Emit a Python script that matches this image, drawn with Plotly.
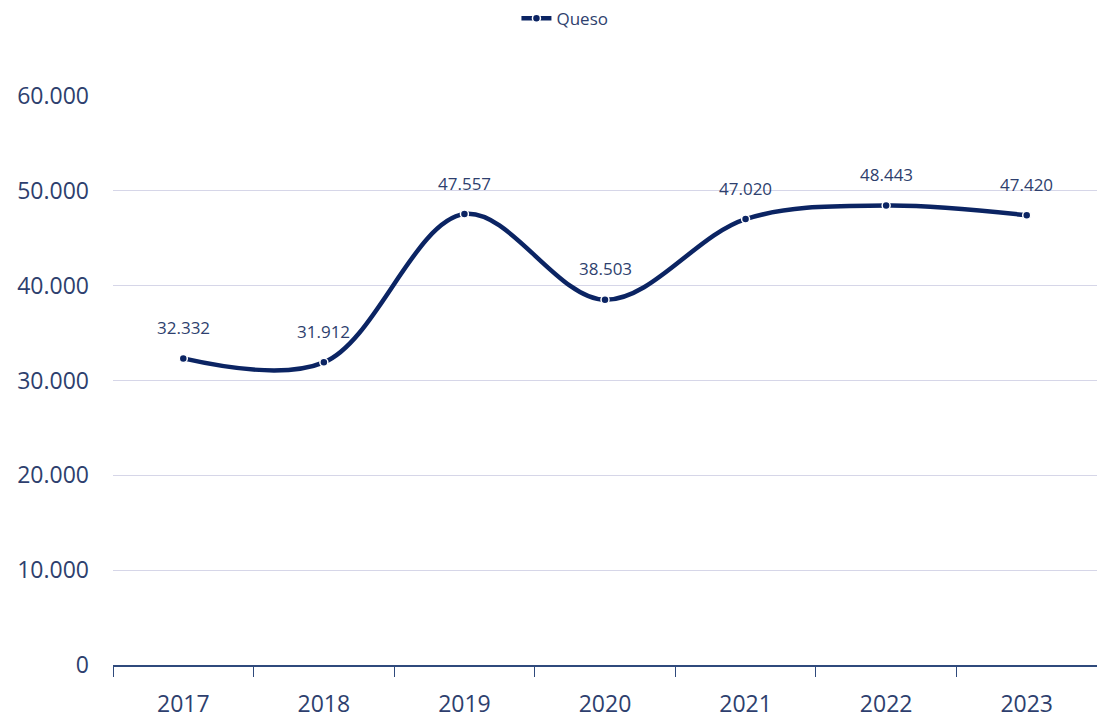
import plotly.graph_objects as go

years = ["2017", "2018", "2019", "2020", "2021", "2022", "2023"]
queso = [32332, 31912, 47557, 38503, 47020, 48443, 47420]
labels = ["32.332", "31.912", "47.557", "38.503", "47.020", "48.443", "47.420"]

navy = "#0b2463"
text_col = "#2e3f6e"

fig = go.Figure()
fig.add_trace(go.Scatter(
    x=years, y=queso, name="Queso",
    mode="lines+markers",
    line=dict(color=navy, width=4.5, shape="spline", smoothing=1.0),
    marker=dict(color=navy, size=8, line=dict(color="white", width=1.5)),
    cliponaxis=False,
))

# value labels sit a fixed distance above each point (x given as category index)
for i, (val, lab) in enumerate(zip(queso, labels)):
    fig.add_annotation(x=i, y=val, xref="x", yref="y", text=lab, showarrow=False,
                       yshift=31, font=dict(family="Open Sans", size=17, color=text_col))

fig.update_layout(
    width=1097, height=718,
    margin=dict(l=113, r=0, t=96, b=53),
    paper_bgcolor="white", plot_bgcolor="white",
    separators=",.",
    font=dict(family="Open Sans", color=text_col),
    showlegend=True,
    legend=dict(orientation="h", x=0.41, xanchor="left", y=0.999, yref="container",
                yanchor="top", font=dict(size=17, color=text_col)),
    xaxis=dict(
        type="category", tickson="boundaries", ticks="outside", ticklen=10,
        tickcolor="#2f4a7c", showline=True, linecolor="#2f4a7c", linewidth=1.5,
        showgrid=False, tickfont=dict(size=23, color=text_col),
        ticklabelstandoff=18, range=[-0.5, 6.5],
    ),
    yaxis=dict(
        range=[0, 60000], dtick=10000, tickformat=",d",
        showgrid=True, gridcolor="#d6d6e8", gridwidth=1, zeroline=False,
        showline=False, tickfont=dict(size=23, color=text_col), ticklabelstandoff=23,
    ),
)

fig.write_html("out.html")
